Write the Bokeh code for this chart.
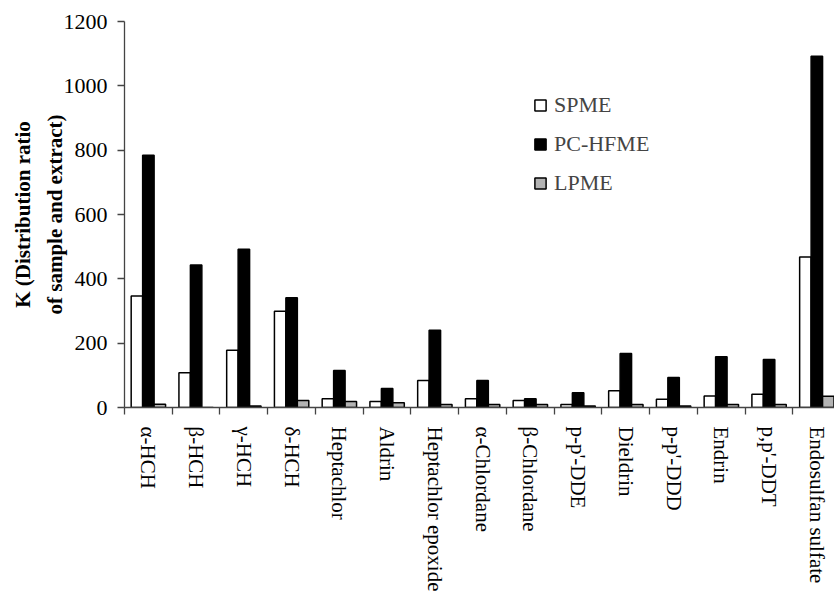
import math
from bokeh.plotting import figure
from bokeh.models import (ColumnDataSource, Range1d, FixedTicker, Legend, LegendItem, Title)
from bokeh.embed import file_html
from bokeh.resources import INLINE

categories = ["α-HCH", "β-HCH", "γ-HCH", "δ-HCH", "Heptachlor", "Aldrin",
              "Heptachlor epoxide", "α-Chlordane", "β-Chlordane", "p-p'-DDE",
              "Dieldrin", "p-p'-DDD", "Endrin", "p,p'-DDT", "Endosulfan sulfate"]
spme = [347, 108, 178, 299, 27, 19, 84, 27, 22, 9, 52, 26, 36, 41, 468]
pc_hfme = [784, 443, 492, 341, 115, 59, 240, 84, 27, 46, 168, 93, 158, 149, 1092]
lpme = [10, 0, 5, 22, 19, 15, 9, 9, 9, 5, 9, 5, 9, 9, 35]
series_names = ["SPME", "PC-HFME", "LPME"]
y_ticks = [0, 200, 400, 600, 800, 1000, 1200]
y_label_lines = ["K (Distribution ratio", "of sample and extract)"]

FONT = "Liberation Serif"
n = len(categories)
centers = [i + 0.5 for i in range(n)]
bw = 0.24

p = figure(width=834, height=594, output_backend="svg", toolbar_location=None,
           x_range=Range1d(0, 14.87), y_range=Range1d(0, 1200),
           min_border_left=124, min_border_right=0, min_border_top=21,
           min_border_bottom=187)
p.outline_line_color = None
p.xgrid.visible = False
p.ygrid.visible = False
p.background_fill_color = "white"
p.border_fill_color = "white"

src = ColumnDataSource(dict(
    xs=[c - bw for c in centers], xp=centers, xl=[c + bw for c in centers],
    spme=spme, pc=pc_hfme, lp=lpme))

r1 = p.vbar(x="xs", top="spme", width=bw, source=src, fill_color="white",
            line_color="black", line_width=1.5)
r2 = p.vbar(x="xp", top="pc", width=bw, source=src, fill_color="black",
            line_color="black", line_width=1.5)
r3 = p.vbar(x="xl", top="lp", width=bw, source=src, fill_color="#b3b3b3",
            line_color="black", line_width=1.5)

# x axis
xa = p.xaxis[0]
xa.ticker = FixedTicker(ticks=centers, minor_ticks=list(range(n + 1)))
xa.major_label_overrides = {c: name for c, name in zip(centers, categories)}
xa.major_label_orientation = -math.pi / 2
xa.major_tick_out = 0
xa.major_tick_in = 0
xa.minor_tick_out = 7
xa.minor_tick_in = 0
xa.major_label_standoff = 12
xa.major_label_text_font = FONT
xa.major_label_text_font_size = "21px"
xa.major_label_text_color = "black"
xa.axis_line_color = "#444444"
xa.axis_line_width = 1.3
xa.minor_tick_line_color = "#444444"
xa.minor_tick_line_width = 1.3

# y axis
ya = p.yaxis[0]
ya.ticker = FixedTicker(ticks=y_ticks)
ya.major_tick_out = 7
ya.major_tick_in = 0
ya.minor_tick_out = 0
ya.minor_tick_in = 0
ya.major_label_standoff = 10
ya.major_label_text_font = FONT
ya.major_label_text_font_size = "22px"
ya.major_label_text_color = "black"
ya.axis_line_color = "#444444"
ya.axis_line_width = 1.3
ya.major_tick_line_color = "#444444"
ya.major_tick_line_width = 1.3
ya.axis_label = y_label_lines[1]
ya.axis_label_standoff = -6
ya.axis_label_text_font = FONT
ya.axis_label_text_font_size = "21px"
ya.axis_label_text_font_style = "bold"
ya.axis_label_text_color = "black"

# first line of the y axis label
p.add_layout(Title(text=y_label_lines[0], align="center", text_font=FONT,
                   text_font_size="21px", text_font_style="bold",
                   text_color="black", standoff=10), "left")

legend = Legend(items=[LegendItem(label=series_names[0], renderers=[r1]),
                       LegendItem(label=series_names[1], renderers=[r2]),
                       LegendItem(label=series_names[2], renderers=[r3])],
                location=(409, 211), orientation="vertical",
                border_line_color=None, background_fill_alpha=0,
                label_text_font=FONT, label_text_font_size="22px",
                glyph_width=14, glyph_height=14, label_height=20,
                spacing=13, padding=0, margin=0, label_standoff=7)
p.add_layout(legend, "center")

open("out.html", "w").write(file_html(p, INLINE))
